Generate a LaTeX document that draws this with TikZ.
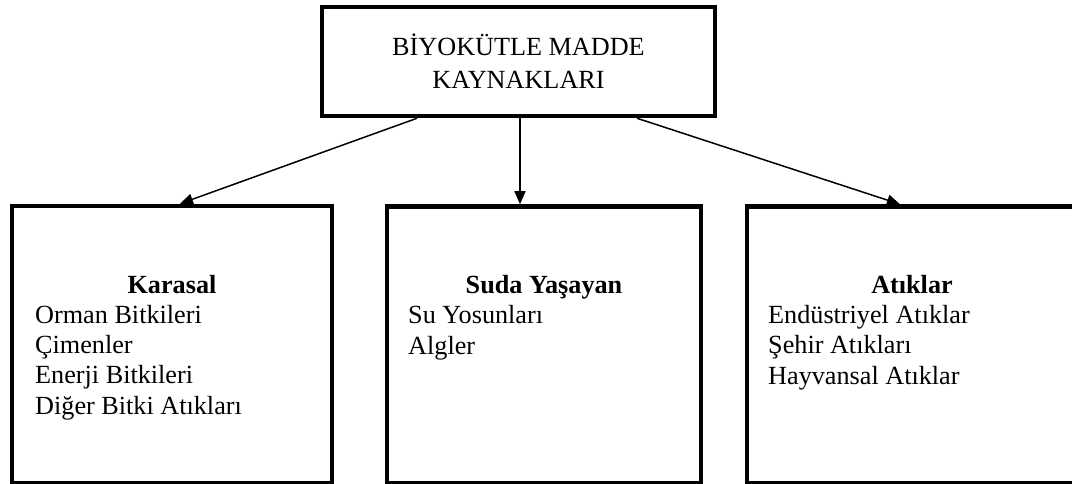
\documentclass[tikz,border=0pt]{standalone}
\usepackage{fontspec}
\setmainfont{Liberation Serif}
\usetikzlibrary{positioning,arrows.meta}

\begin{document}
\begin{tikzpicture}[x=1pt,y=-1pt]
  \tikzset{box/.style = {shape=rectangle,draw,line width=4.5pt,inner sep=0pt}} % kutu stili
  \tikzset{arr/.style = {line width=1.5pt,-{Triangle[length=13pt,width=11pt]}}}
  \tikzset{txt/.style = {font=\fontsize{26.2pt}{30.3pt}\selectfont, inner sep=0pt}}

  \useasboundingbox (0,0) rectangle (1072,484);
  \clip (0,0) rectangle (1072,484);

  % kutular
  \node[box, minimum width=393pt, minimum height=109pt, align=center, font=\fontsize{26.2pt}{33pt}\selectfont] (kaynak) at (518.5,61.5) {BİYOKÜTLE MADDE\\KAYNAKLARI};
  \node[box, minimum width=320pt, minimum height=277pt] (karasal) at (172,344.5) {};
  \node[box, minimum width=314pt, minimum height=277pt] (suda) at (544,345) {};
  \node[box, minimum width=333pt, minimum height=277pt] (atik) at (913.5,345) {};

  % metinler (liste: son satirin taban cizgisi)
  \node[txt, anchor=base, font=\fontsize{26.2pt}{30.3pt}\selectfont\bfseries] (karasalbaslik) at (172,293) {Karasal};
  \node[txt, anchor=base west, align=left] (karasalliste) at (35,414) {Orman Bitkileri\\Çimenler\\Enerji Bitkileri\\Diğer Bitki Atıkları};
  \node[txt, anchor=base, font=\fontsize{26.2pt}{30.3pt}\selectfont\bfseries] (sudabaslik) at (544,293) {Suda Yaşayan};
  \node[txt, anchor=base west, align=left] (sudaliste) at (408,354) {Su Yosunları\\Algler};
  \node[txt, anchor=base west, align=left] (atikliste) at (768,384) {Endüstriyel Atıklar\\Şehir Atıkları\\Hayvansal Atıklar};
  \node[txt, anchor=base, font=\fontsize{26.2pt}{30.3pt}\selectfont\bfseries] (atikbaslik) at (912,293) {Atıklar};

  % oklar
  \draw[arr] ([xshift=-101.5pt]kaynak.south) -- ([xshift=8pt]karasal.north);
  \draw[arr] ([xshift=1.5pt]kaynak.south) -- ([xshift=-24pt]suda.north);
  \draw[arr] ([xshift=118.5pt]kaynak.south) -- ([xshift=-13.5pt]atik.north);

\end{tikzpicture}
\end{document}
